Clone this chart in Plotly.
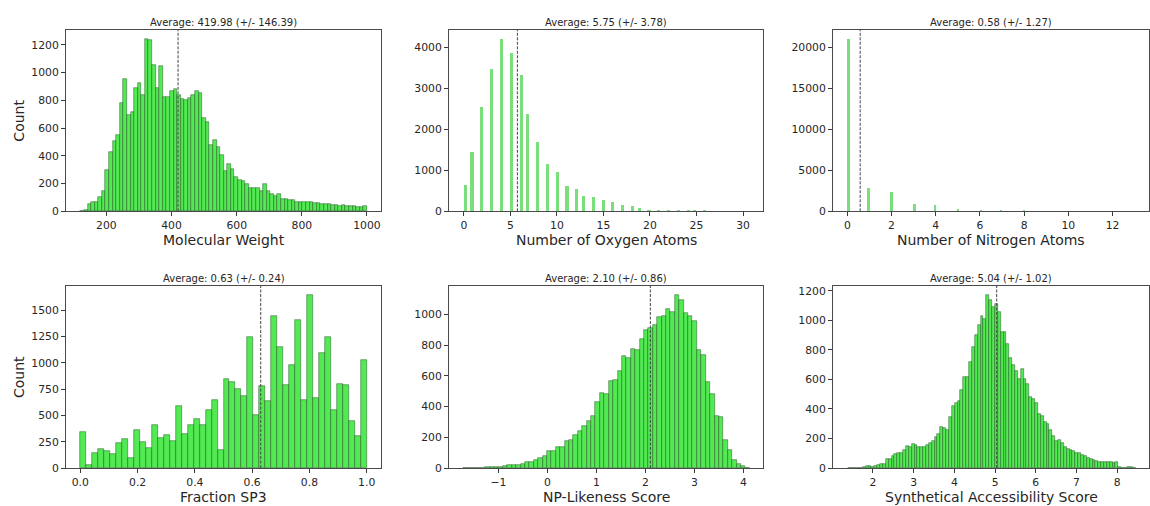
import plotly.graph_objects as go
from plotly.subplots import make_subplots
import math

# ---------------- data ----------------
# Panel 1: Molecular Weight histogram (bins of width 11 starting at 120)
mw_start, mw_width = 120, 11
mw_counts = [3, 10, 50, 65, 65, 100, 145, 296, 430, 505,
             547, 783, 952, 694, 718, 892, 928, 839, 1245, 1235,
             1055, 887, 1050, 826, 826, 865, 880, 840, 810, 805,
             815, 840, 865, 850, 670, 645, 480, 515, 465, 405,
             290, 340, 305, 250, 225, 220, 200, 170, 170, 165,
             150, 195, 145, 125, 110, 125, 90, 90, 85, 80,
             70, 70, 65, 70, 65, 60, 58, 55, 50, 52,
             45, 42, 40, 42, 38, 35, 36, 32, 30, 35]

# Panel 2: Number of Oxygen Atoms (counts for 0..31)
ox_values = list(range(32))
ox_counts = [640, 1434, 2543, 3467, 4204, 3848, 3313, 2381, 1693, 1150,
             948, 616, 535, 381, 340, 267, 219, 154, 130, 81,
             40, 40, 25, 18, 15, 10, 8, 5, 4, 3, 2, 2]
ox_binw = 31 / 88

# Panel 3: Number of Nitrogen Atoms (counts for 0..13)
nit_values = list(range(14))
nit_counts = [21100, 2890, 2400, 890, 810, 240, 120, 80, 40, 20, 15, 10, 5, 5]
nit_binw = 13 / 100

# Panel 4: Fraction SP3 (48 bins over 0..1)
sp3_start, sp3_width = 0.0, 1 / 48
sp3_counts = [340, 32, 143, 181, 159, 137, 238, 276, 95, 359,
              245, 191, 407, 286, 318, 261, 588, 327, 407, 470,
              413, 556, 651, 175, 849, 817, 747, 683, 1243, 508,
              779, 636, 1449, 1150, 785, 976, 1405, 651, 1649, 667,
              1096, 1249, 556, 801, 785, 445, 302, 1023]

# Panel 5: NP-Likeness Score
np_start, np_width = -1.72, 0.09
np_counts = [2, 2, 2, 3, 3, 4, 5, 7, 9, 12,
             20, 22, 22, 28, 42, 38, 50, 68, 80, 112,
             110, 135, 140, 178, 185, 212, 240, 275, 305, 340,
             430, 490, 480, 565, 575, 635, 730, 720, 775, 770,
             840, 900, 910, 930, 985, 990, 1035, 1020, 1130, 1095,
             1010, 990, 960, 770, 735, 560, 480, 340, 330, 185,
             120, 50, 25, 10, 3]

# Panel 6: Synthetical Accessibility Score
sa_start, sa_width = 1.40, 0.0705
sa_counts = [1, 1, 2, 2, 3, 5, 15, 14, 10, 15,
             22, 28, 30, 60, 62, 80, 95, 105, 100, 120,
             150, 140, 160, 155, 145, 145, 140, 155, 170, 180,
             210, 230, 275, 270, 260, 345, 420, 440, 455, 530,
             620, 615, 720, 820, 900, 970, 1030, 1010, 1175, 1140,
             1090, 1110, 1060, 925, 920, 840, 745, 700, 660, 605,
             670, 600, 570, 480, 470, 440, 365, 355, 310, 300,
             255, 215, 180, 190, 170, 140, 130, 125, 115, 105,
             100, 90, 80, 68, 60, 52, 45, 40, 38, 40,
             42, 38, 35, 38, 6, 2, 3, 5, 6, 2]

means = [419.98, 5.75, 0.58, 0.63, 2.10, 5.04]
stds = [146.39, 3.78, 1.27, 0.24, 0.86, 1.02]
xlabels = ["Molecular Weight", "Number of Oxygen Atoms", "Number of Nitrogen Atoms",
           "Fraction SP3", "NP-Likeness Score", "Synthetical Accessibility Score"]
ylabel = "Count"

x_tickvals = [[200, 400, 600, 800, 1000], [0, 5, 10, 15, 20, 25, 30], [0, 2, 4, 6, 8, 10, 12],
              [0.0, 0.2, 0.4, 0.6, 0.8, 1.0], [-1, 0, 1, 2, 3, 4], [2, 3, 4, 5, 6, 7, 8]]
x_ticktext = [["200", "400", "600", "800", "1000"], ["0", "5", "10", "15", "20", "25", "30"],
              ["0", "2", "4", "6", "8", "10", "12"], ["0.0", "0.2", "0.4", "0.6", "0.8", "1.0"],
              ["\u22121", "0", "1", "2", "3", "4"], ["2", "3", "4", "5", "6", "7", "8"]]
y_tickvals = [[0, 200, 400, 600, 800, 1000, 1200], [0, 1000, 2000, 3000, 4000],
              [0, 5000, 10000, 15000, 20000], [0, 250, 500, 750, 1000, 1250, 1500],
              [0, 200, 400, 600, 800, 1000], [0, 200, 400, 600, 800, 1000, 1200]]

# ---------------- figure ----------------
W, H = 1150, 506
fig = make_subplots(rows=2, cols=3)

FILL = "rgb(82,234,82)"
EDGE = "rgba(25,70,25,0.75)"
THIN = "rgb(122,222,122)"


def regular_bars(start, width, counts):
    lefts = [start + i * width for i in range(len(counts))]
    return go.Bar(x=lefts, y=counts, width=width, offset=0,
                  marker=dict(color=FILL, line=dict(color=EDGE, width=0.6)),
                  hoverinfo="skip", showlegend=False)


def discrete_bars(values, counts, binw):
    lefts = [math.floor(v / binw + 1e-9) * binw for v in values]
    lefts = [min(l, values[-1] - binw) for l in lefts]
    return go.Bar(x=lefts, y=counts, width=binw * 0.95, offset=0,
                  marker=dict(color=THIN, line=dict(width=0)),
                  hoverinfo="skip", showlegend=False)


fig.add_trace(regular_bars(mw_start, mw_width, mw_counts), row=1, col=1)
fig.add_trace(discrete_bars(ox_values, ox_counts, ox_binw), row=1, col=2)
fig.add_trace(discrete_bars(nit_values, nit_counts, nit_binw), row=1, col=3)
fig.add_trace(regular_bars(sp3_start, sp3_width, sp3_counts), row=2, col=1)
fig.add_trace(regular_bars(np_start, np_width, np_counts), row=2, col=2)
fig.add_trace(regular_bars(sa_start, sa_width, sa_counts), row=2, col=3)

# panel pixel boxes (left, right, top, bottom)
boxes = [(66, 381, 30, 211.3), (449, 763, 30, 211.3), (833, 1149, 30, 211.3),
         (66, 381, 286, 468), (449, 763, 286, 468), (833, 1149, 286, 468)]
xranges = [[76, 1043], [-1.6, 32.15], [-0.65, 13.65], [-0.05, 1.05], [-2.01, 4.40], [1.02, 8.78]]
ymaxes = [max(mw_counts), max(ox_counts), max(nit_counts), max(sp3_counts), max(np_counts), max(sa_counts)]

FONT = "DejaVu Sans"
TXT = "#262626"
axis_common = dict(showline=True, mirror=True, linecolor="#4a4a4a", linewidth=1,
                   ticks="outside", ticklen=4, tickwidth=1, tickcolor="#3a3a3a",
                   showgrid=False, zeroline=False, automargin=False,
                   tickfont=dict(family=FONT, size=10.8, color=TXT))

annotations = []
shapes = []
for k in range(6):
    l, r, t, b = boxes[k]
    xd = [l / W, r / W]
    yd = [1 - b / H, 1 - t / H]
    xa = "xaxis" if k == 0 else f"xaxis{k+1}"
    ya = "yaxis" if k == 0 else f"yaxis{k+1}"
    fig.layout[xa].update(domain=xd, range=xranges[k], tickmode="array",
                          tickvals=x_tickvals[k], ticktext=x_ticktext[k], **axis_common)
    fig.layout[ya].update(domain=yd, range=[0, ymaxes[k] * 1.05], tickmode="array",
                          tickvals=y_tickvals[k], ticktext=[str(v) for v in y_tickvals[k]],
                          **axis_common)
    xref = "x" if k == 0 else f"x{k+1}"
    yref = "y" if k == 0 else f"y{k+1}"
    shapes.append(dict(type="line", xref=xref, yref=f"{yref} domain", x0=means[k], x1=means[k],
                       y0=0, y1=1, line=dict(color="#444444", width=1, dash="3px,1.5px")))
    cx = (l + r) / 2 / W
    annotations.append(dict(text=f"Average: {means[k]:.2f} (+/- {stds[k]:.2f})",
                            x=cx, y=1 - (t - 7.5) / H, xref="paper", yref="paper",
                            xanchor="center", yanchor="middle", showarrow=False,
                            font=dict(family=FONT, size=10, color=TXT)))
    annotations.append(dict(text=xlabels[k], x=cx, y=1 - (b + 28.5) / H, xref="paper", yref="paper",
                            xanchor="center", yanchor="middle", showarrow=False,
                            font=dict(family=FONT, size=14, color=TXT)))
    if k in (0, 3):
        annotations.append(dict(text=ylabel, x=19 / W, y=1 - (t + b) / 2 / H, xref="paper",
                                yref="paper", xanchor="center", yanchor="middle", textangle=-90,
                                showarrow=False, font=dict(family=FONT, size=14, color=TXT)))

fig.update_layout(width=W, height=H, autosize=False,
                  margin=dict(l=0, r=0, t=0, b=0, autoexpand=False),
                  paper_bgcolor="white", plot_bgcolor="white",
                  bargap=0, showlegend=False, annotations=annotations, shapes=shapes,
                  font=dict(family=FONT, color=TXT))

post = ("document.body.style.margin='0';document.body.style.padding='0';"
        "document.body.style.overflow='hidden';"
        "var gd=document.getElementById('{plot_id}');"
        "Plotly.relayout(gd,{width:%d,height:%d});" % (W, H))

fig.write_html("out.html", config={"displayModeBar": False, "responsive": False},
               post_script=post)
